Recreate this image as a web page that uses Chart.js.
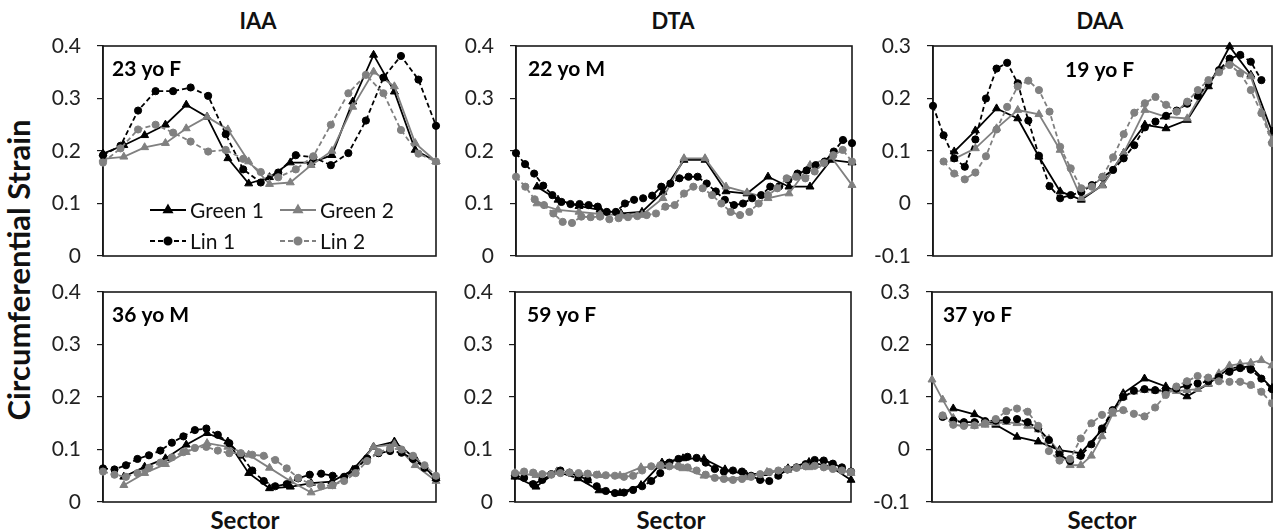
<!DOCTYPE html>
<html>
<head>
<meta charset="utf-8">
<title>Circumferential strain by sector</title>
<script src="https://cdn.jsdelivr.net/npm/chart.js@4.4.1/dist/chart.umd.min.js"></script>
<style>
  html, body { margin: 0; padding: 0; background: #fff; }
  #fig { position: relative; width: 1273px; height: 532px; overflow: hidden; background: #fff;
         font-family: Lato, "Open Sans", "Liberation Sans", sans-serif; color: #111; }
  #fig canvas { position: absolute; }
  .txt { position: absolute; font-weight: 700; white-space: nowrap; line-height: 1; }
  .ctr { transform: translateX(-50%); }
</style>
</head>
<body>
<div id="fig">
  <div class="txt ctr" style="left:258px; top:10px; font-size:22px;">IAA</div>
  <div class="txt ctr" style="left:673px; top:10px; font-size:22px;">DTA</div>
  <div class="txt ctr" style="left:1100px; top:10px; font-size:22px;">DAA</div>
  <div class="txt ctr" style="left:245px; top:508px; font-size:24px;">Sector</div>
  <div class="txt ctr" style="left:671px; top:508px; font-size:24px;">Sector</div>
  <div class="txt ctr" style="left:1102px; top:508px; font-size:24px;">Sector</div>
  <div class="txt" style="left:18px; top:270px; font-size:31px; transform:translate(-50%,-50%) rotate(-90deg);">Circumferential Strain</div>
</div>
<script>
// ---- IAA, 23 yo F ----
const iaa23Green1 = [0.195, 0.211, 0.230, 0.250, 0.288, 0.265, 0.186, 0.138, 0.150, 0.178, 0.178, 0.192, 0.294, 0.383, 0.313, 0.202, 0.180];
const iaa23Green2 = [0.185, 0.189, 0.207, 0.215, 0.243, 0.265, 0.241, 0.180, 0.137, 0.140, 0.173, 0.200, 0.284, 0.351, 0.323, 0.215, 0.180];
const iaa23Lin1 = [0.192, 0.210, 0.277, 0.314, 0.314, 0.321, 0.305, 0.232, 0.165, 0.140, 0.159, 0.192, 0.188, 0.173, 0.196, 0.258, 0.340, 0.381, 0.336, 0.248];
const iaa23Lin2 = [0.178, 0.205, 0.241, 0.250, 0.235, 0.218, 0.199, 0.202, 0.185, 0.160, 0.150, 0.165, 0.190, 0.250, 0.310, 0.345, 0.310, 0.240, 0.195, 0.180];

// ---- DTA, 22 yo M ----
const dta22Green1 = [null, 0.132, 0.107, 0.095, 0.088, 0.081, 0.084, 0.122, 0.183, 0.183, 0.123, 0.119, 0.151, 0.132, 0.132, 0.183, 0.178];
const dta22Green2 = [null, 0.100, 0.088, 0.084, 0.080, 0.078, 0.078, 0.110, 0.186, 0.186, 0.132, 0.121, 0.110, 0.119, 0.173, 0.189, 0.135];
const dta22Lin1 = [0.196, 0.175, 0.157, 0.134, 0.116, 0.103, 0.099, 0.099, 0.097, 0.094, 0.084, 0.084, 0.100, 0.107, 0.110, 0.115, 0.132, 0.138, 0.148, 0.151,
                   0.151, 0.138, 0.123, 0.107, 0.097, 0.100, 0.110, 0.116, 0.132, 0.133, 0.145, 0.157, 0.163, 0.173, 0.180, 0.199, 0.221, 0.215];
const dta22Lin2 = [0.151, 0.132, 0.108, 0.097, 0.081, 0.065, 0.063, 0.075, 0.074, 0.075, 0.070, 0.072, 0.074, 0.076, 0.078, 0.081, 0.094, 0.097, 0.119, 0.132,
                   0.129, 0.116, 0.100, 0.084, 0.078, 0.084, 0.100, 0.116, 0.129, 0.148, 0.151, 0.148, 0.161, 0.177, 0.192, 0.202, 0.180];

// ---- DAA, 19 yo F ----
const daa19Green1 = [null, 0.099, 0.139, 0.181, 0.162, 0.089, 0.023, 0.007, 0.035, 0.096, 0.150, 0.143, 0.159, 0.223, 0.299, 0.245, 0.137];
const daa19Green2 = [null, 0.085, 0.105, 0.143, 0.178, 0.170, 0.102, 0.010, 0.034, 0.096, 0.178, 0.165, 0.162, 0.232, 0.270, 0.242, 0.120];
const daa19Lin1 = [0.186, 0.130, 0.086, 0.070, 0.122, 0.200, 0.257, 0.268, 0.229, 0.158, 0.091, 0.033, 0.010, 0.016, 0.022, 0.035, 0.050, 0.064, 0.086, 0.111,
                   0.145, 0.156, 0.167, 0.177, 0.190, 0.205, 0.229, 0.254, 0.276, 0.283, 0.270, 0.235, null];
const daa19Lin2 = [null, 0.080, 0.057, 0.046, 0.059, 0.090, 0.141, 0.184, 0.223, 0.234, 0.216, 0.175, 0.108, 0.067, 0.029, 0.032, 0.051, 0.088, 0.132, 0.173,
                   0.191, 0.203, 0.188, 0.175, 0.194, 0.216, 0.235, 0.250, 0.264, 0.248, 0.216, 0.172, 0.115];

// ---- IAA, 36 yo M ----
const iaa36Green1 = [null, 0.048, 0.067, 0.083, 0.109, 0.131, 0.115, 0.055, 0.026, 0.029, 0.036, 0.039, 0.061, 0.105, 0.115, 0.083, 0.045];
const iaa36Green2 = [null, 0.032, 0.055, 0.072, 0.095, 0.112, 0.105, 0.090, 0.065, 0.040, 0.018, 0.030, 0.055, 0.105, 0.110, 0.070, 0.040];
const iaa36Lin1 = [0.064, 0.062, 0.070, 0.082, 0.089, 0.098, 0.113, 0.125, 0.137, 0.140, 0.128, 0.112, 0.090, 0.060, 0.040, 0.030, 0.034, 0.045, 0.052, 0.054,
                   0.050, 0.048, 0.063, 0.083, 0.093, 0.097, 0.094, 0.082, 0.065, 0.045];
const iaa36Lin2 = [0.058, 0.052, 0.048, 0.055, 0.065, 0.075, 0.085, 0.095, 0.103, 0.105, 0.098, 0.093, 0.093, 0.090, 0.088, 0.080, 0.064, 0.046, 0.035, 0.030,
                   0.032, 0.040, 0.055, 0.078, 0.095, 0.102, 0.100, 0.088, 0.070, 0.050];

// ---- DTA, 59 yo F ----
const dta59Green1 = [0.048, 0.029, 0.058, 0.045, 0.022, 0.017, 0.032, 0.075, 0.083, 0.082, 0.062, 0.052, 0.055, 0.064, 0.076, 0.068, 0.042];
const dta59Green2 = [0.055, 0.051, 0.058, 0.051, 0.051, 0.050, 0.066, 0.068, 0.064, 0.050, 0.045, 0.047, 0.057, 0.061, 0.066, 0.067, 0.055];
const dta59Lin1 = [0.050, 0.046, 0.034, 0.042, 0.053, 0.060, 0.056, 0.050, 0.042, 0.030, 0.021, 0.017, 0.018, 0.023, 0.030, 0.040, 0.055, 0.075, 0.082, 0.086,
                   0.084, 0.075, 0.063, 0.058, 0.060, 0.058, 0.050, 0.042, 0.040, 0.050, 0.062, 0.066, 0.072, 0.080, 0.079, 0.073, 0.066, 0.058];
const dta59Lin2 = [0.055, 0.058, 0.056, 0.053, 0.052, 0.055, 0.056, 0.055, 0.054, 0.052, 0.051, 0.050, 0.048, 0.050, 0.060, 0.068, 0.070, 0.068, 0.068, 0.066,
                   0.060, 0.052, 0.046, 0.044, 0.042, 0.044, 0.048, 0.053, 0.057, 0.060, 0.062, 0.065, 0.068, 0.069, 0.066, 0.063, 0.060, 0.057];

// ---- DAA, 37 yo F ----
const daa37Green1 = [null, 0.078, 0.067, 0.047, 0.024, 0.015, -0.001, -0.007, 0.037, 0.107, 0.135, 0.120, 0.101, 0.125, 0.155, 0.158, 0.117];
const daa37Green2 = [0.133, 0.095, 0.060, 0.048, 0.045, 0.047, 0.050, 0.052, 0.050, 0.045, 0.038, 0.020, -0.005, -0.030, -0.030, -0.012, 0.025, 0.068, 0.100, 0.110,
                     0.113, 0.112, 0.110, 0.111, 0.113, 0.115, 0.125, 0.145, 0.160, 0.163, 0.165, 0.170, 0.160];
const daa37Lin1 = [null, 0.062, 0.055, 0.052, 0.052, 0.054, 0.055, 0.056, 0.058, 0.052, 0.040, 0.018, -0.010, -0.022, -0.012, 0.010, 0.040, 0.075, 0.100, 0.112,
                   0.115, 0.113, 0.112, 0.116, 0.122, 0.126, 0.130, 0.138, 0.148, 0.155, 0.152, 0.135, 0.115];
const daa37Lin2 = [null, 0.065, 0.047, 0.045, 0.046, 0.050, 0.058, 0.073, 0.078, 0.072, 0.045, -0.003, -0.021, -0.018, 0.021, 0.050, 0.066, 0.072, 0.075, 0.068,
                   0.063, 0.080, 0.104, 0.120, 0.130, 0.140, 0.137, 0.130, 0.129, 0.129, 0.123, 0.110, 0.088];

const seriesNames = ['Green 1', 'Green 2', 'Lin 1', 'Lin 2'];
const FONT = 'Lato, "Open Sans", "Liberation Sans", sans-serif';
const INK = '#1a1a1a';
const GREY = '#808080';

// line / marker look of the four series, in the order of seriesNames
const seriesStyle = [
  { color: '#000', dash: [], marker: 'triangle', r: 4.6, order: 3 },
  { color: GREY, dash: [], marker: 'triangle', r: 4.6, order: 2 },
  { color: '#000', dash: [5, 3], marker: 'circle', r: 3.6, order: 1 },
  { color: GREY, dash: [5, 3], marker: 'circle', r: 3.6, order: 0 }
];

// plot-area placement of each panel on the page
const panels = [
  { L: 103, T: 46,  W: 333, H: 210, min: 0,    max: 0.4, tag: '23 yo F', tagX: 9,   tagY: 30, data: [iaa23Green1, iaa23Green2, iaa23Lin1, iaa23Lin2], legend: true },
  { L: 516, T: 46,  W: 336, H: 210, min: 0,    max: 0.4, tag: '22 yo M', tagX: 12,  tagY: 30, data: [dta22Green1, dta22Green2, dta22Lin1, dta22Lin2] },
  { L: 933, T: 46,  W: 339, H: 210, min: -0.1, max: 0.3, tag: '19 yo F', tagX: 132, tagY: 31, data: [daa19Green1, daa19Green2, daa19Lin1, daa19Lin2] },
  { L: 103, T: 292, W: 333, H: 210, min: 0,    max: 0.4, tag: '36 yo M', tagX: 9,   tagY: 30, data: [iaa36Green1, iaa36Green2, iaa36Lin1, iaa36Lin2] },
  { L: 515, T: 292, W: 336, H: 210, min: 0,    max: 0.4, tag: '59 yo F', tagX: 12,  tagY: 30, data: [dta59Green1, dta59Green2, dta59Lin1, dta59Lin2] },
  { L: 932, T: 292, W: 340, H: 210, min: -0.1, max: 0.3, tag: '37 yo F', tagX: 11,  tagY: 30, data: [daa37Green1, daa37Green2, daa37Lin1, daa37Lin2] }
];

// sectors are spread evenly along the horizontal axis (0..100)
function toPoints(vals) {
  const n = vals.length;
  return vals.map((v, i) => ({ x: (i * 100) / (n - 1), y: v }));
}

// closed frame around the plot area plus the subject tag
const framePlugin = {
  id: 'frame',
  beforeDatasetsDraw(chart, args, opts) {
    const a = chart.chartArea, ctx = chart.ctx;
    ctx.save();
    ctx.strokeStyle = INK;
    ctx.lineWidth = 1.6;
    ctx.strokeRect(a.left, a.top, a.right - a.left, a.bottom - a.top);
    ctx.restore();
  },
  afterDatasetsDraw(chart, args, opts) {
    const a = chart.chartArea, ctx = chart.ctx;
    ctx.save();
    ctx.fillStyle = '#000';
    ctx.font = '700 21px ' + FONT;
    ctx.textBaseline = 'alphabetic';
    ctx.fillText(opts.tag, a.left + opts.tagX, a.top + opts.tagY);
    ctx.restore();
  }
};

// series key drawn inside the first panel
const keyPlugin = {
  id: 'key',
  afterDatasetsDraw(chart, args, opts) {
    if (!opts.items) return;
    const a = chart.chartArea, ctx = chart.ctx;
    opts.items.forEach(it => {
      const ds = chart.data.datasets[it.ds];
      const x = a.left + it.dx, y = a.top + it.dy;
      ctx.save();
      ctx.strokeStyle = ds.borderColor;
      ctx.lineWidth = ds.borderWidth;
      ctx.setLineDash(ds.borderDash);
      ctx.beginPath();
      ctx.moveTo(x, y);
      ctx.lineTo(x + 36, y);
      ctx.stroke();
      ctx.setLineDash([]);
      ctx.fillStyle = ds.pointBackgroundColor;
      ctx.strokeStyle = ds.pointBorderColor;
      Chart.helpers.drawPoint(ctx, { pointStyle: ds.pointStyle, radius: ds.pointRadius, borderWidth: 1, rotation: 0 }, x + 18, y);
      ctx.fillStyle = '#111';
      ctx.font = '400 21px ' + FONT;
      ctx.textBaseline = 'middle';
      ctx.fillText(ds.label, x + 40, y + 1);
      ctx.restore();
    });
  }
};

const fig = document.getElementById('fig');
const AXW = 80, PADT = 32, PADB = 32, PADR = 8;

panels.forEach(p => {
  const cv = document.createElement('canvas');
  cv.width = p.W + AXW + PADR;
  cv.height = p.H + PADT + PADB;
  cv.style.left = (p.L - AXW) + 'px';
  cv.style.top = (p.T - PADT) + 'px';
  fig.appendChild(cv);

  const datasets = p.data.map((vals, k) => {
    const s = seriesStyle[k];
    return {
      label: seriesNames[k],
      data: toPoints(vals),
      borderColor: s.color,
      backgroundColor: s.color,
      pointBackgroundColor: s.color,
      pointBorderColor: s.color,
      borderWidth: 1.8,
      borderDash: s.dash,
      pointStyle: s.marker,
      pointRadius: s.r,
      pointBorderWidth: 1,
      tension: 0,
      clip: false,
      order: s.order
    };
  });

  new Chart(cv, {
    type: 'line',
    data: { datasets },
    options: {
      responsive: false,
      animation: false,
      devicePixelRatio: 1,
      layout: { padding: { top: PADT, bottom: PADB, right: PADR, left: 0 } },
      scales: {
        x: { type: 'linear', min: 0, max: 100, display: false },
        y: {
          min: p.min, max: p.max,
          afterFit(scale) { scale.width = AXW; },
          ticks: {
            stepSize: 0.1,
            color: '#222',
            padding: 16,
            font: { family: FONT, size: 21 },
            callback: v => String(+v.toFixed(1))
          },
          grid: { drawOnChartArea: false, drawTicks: true, tickLength: 6, color: INK, lineWidth: 1.2 },
          border: { display: true, color: INK, width: 1.6 }
        }
      },
      plugins: {
        legend: { display: false },
        tooltip: { enabled: false },
        frame: { tag: p.tag, tagX: p.tagX, tagY: p.tagY },
        key: p.legend ? { items: [
          { ds: 0, dx: 47, dy: 164 },
          { ds: 1, dx: 177, dy: 164 },
          { ds: 2, dx: 47, dy: 195 },
          { ds: 3, dx: 177, dy: 195 }
        ] } : {}
      }
    },
    plugins: [framePlugin, keyPlugin]
  });
});
</script>
</body>
</html>
